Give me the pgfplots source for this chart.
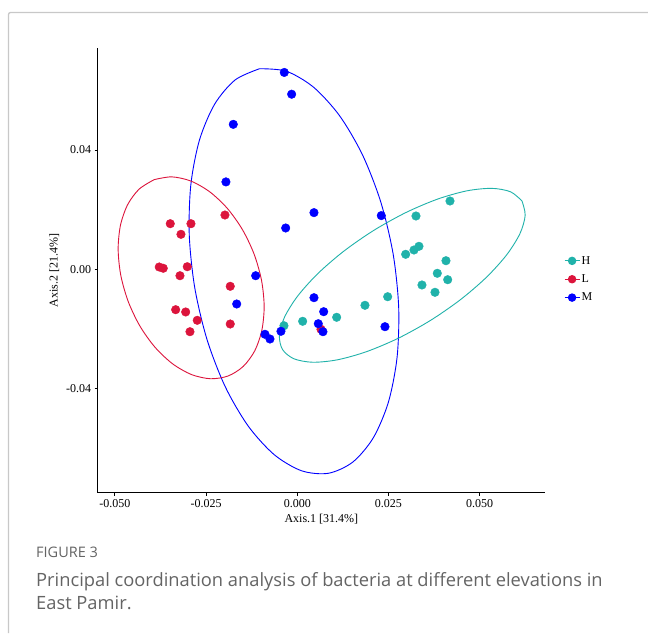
\documentclass[border=0pt]{standalone}
\usepackage{pgfplots}
\pgfplotsset{compat=1.18}
\usepackage{fontspec}
\setmainfont{Liberation Serif}
\newfontfamily\capfont{Open Sans}
\definecolor{cH}{RGB}{32,178,170}
\definecolor{cL}{RGB}{220,20,60}
\definecolor{cM}{RGB}{0,0,255}
\definecolor{capgray}{RGB}{100,100,100}
\definecolor{framegray}{RGB}{200,200,200}
\begin{document}
\begin{tikzpicture}[x=1pt,y=1pt]
\useasboundingbox (0,0) rectangle (648,633);
\fill[white] (0,0) rectangle (648,633);
\draw[framegray, line width=1.3pt, rounded corners=2pt] (8.5,0) -- (8.5,620.5) -- (648,620.5);
\begin{axis}[
  at={(97.7pt,140.3pt)}, anchor=south west,
  scale only axis, width=447.3pt, height=444.7pt,
  xmin=-0.0547, xmax=0.0679, ymin=-0.0749, ymax=0.0742,
  axis x line*=bottom, axis y line*=left,
  axis line style={black, line width=1.1pt},
  tick style={black, line width=0.8pt},
  major tick length=3pt, tick align=outside,
  scaled ticks=false,
  xtick={-0.05,-0.025,0,0.025,0.05},
  xticklabels={-0.050,-0.025,0.000,0.025,0.050},
  ytick={-0.04,0,0.04},
  yticklabels={-0.04,0.00,0.04},
  tick label style={font=\fontsize{12}{14}\selectfont},
  label style={font=\fontsize{12}{14}\selectfont},
  xlabel={Axis.1 [31.4\%]},
  ylabel={Axis.2 [21.4\%]},
  legend style={at={(1.042,0.48)}, anchor=west, draw=none, fill=none,
    font=\fontsize{12}{14}\selectfont, row sep=6pt, inner sep=0pt,
    nodes={inner sep=1.5pt}},
  legend cell align=left,
  legend image code/.code={\draw[#1, sharp plot, mark repeat=2, mark phase=2, mark size=3.6pt, line width=1.2pt] plot coordinates {(0pt,0pt) (7.5pt,0pt) (15pt,0pt)};},
  clip=false,
]
% confidence ellipses (outline points)
\addplot[cM, line width=0.9pt, smooth, forget plot] coordinates {
(-0.010327,0.06725) (-0.00297,0.066399) (0.00453,0.060987) (0.011657,0.05138)
(0.017929,0.038232) (0.022918,0.022438) (0.026283,0.005079) (0.027794,-0.012666)
(0.027351,-0.029588) (0.024982,-0.044531) (0.020848,-0.056477) (0.015232,-0.064615)
(0.008517,-0.06839) (0.00116,-0.067539) (-0.00634,-0.062127) (-0.013467,-0.05252)
(-0.019739,-0.039372) (-0.024728,-0.023578) (-0.028093,-0.006219) (-0.029604,0.011526)
(-0.029161,0.028448) (-0.026792,0.043391) (-0.022658,0.055337) (-0.017042,0.063475)
(-0.010327,0.06725)};
\addplot[cL, line width=0.9pt, smooth, forget plot] coordinates {
(-0.039228,0.030058) (-0.034418,0.030994) (-0.029244,0.029624) (-0.02406,0.026042)
(-0.019218,0.020491) (-0.015048,0.013348) (-0.011835,0.005103) (-0.009798,-0.003684)
(-0.009074,-0.012417) (-0.009715,-0.020495) (-0.011676,-0.02737) (-0.014824,-0.032576)
(-0.018942,-0.035756) (-0.023752,-0.036692) (-0.028926,-0.035322) (-0.03411,-0.03174)
(-0.038952,-0.026189) (-0.043122,-0.019046) (-0.046335,-0.010801) (-0.048372,-0.002014)
(-0.049096,0.006719) (-0.048455,0.014797) (-0.046494,0.021672) (-0.043346,0.026878)
(-0.039228,0.030058)};
\addplot[cH, line width=0.9pt, smooth, forget plot] coordinates {
(0.061596,0.0229) (0.062468,0.018129) (0.061045,0.011985) (0.057424,0.004889)
(0.051851,-0.002677) (0.044705,-0.0102) (0.036475,-0.017164) (0.027721,-0.023094)
(0.019037,-0.027589) (0.01102,-0.030341) (0.004213,-0.031161) (-0.00092,-0.029995)
(-0.00403,-0.026922) (-0.004902,-0.022151) (-0.003479,-0.016007) (0.000142,-0.008911)
(0.005715,-0.001345) (0.012861,0.006178) (0.021091,0.013142) (0.029845,0.019072)
(0.038529,0.023567) (0.046546,0.026319) (0.053353,0.027139) (0.058486,0.025973)
(0.061596,0.0229)};
% H
\addplot[only marks, mark=*, mark size=4.3pt, color=cH] coordinates {
(0.04186,0.0229) (0.03254,0.01787) (0.03336,0.00771) (0.03199,0.00647)
(0.02971,0.00503) (0.04076,0.00288) (0.03838,-0.00134) (0.04123,-0.00349)
(0.03418,-0.00526) (0.03775,-0.00771) (0.02478,-0.00919) (0.01856,-0.01207)
(0.0108,-0.01609) (0.00148,-0.01743) (-0.00365,-0.01891)};
\addlegendentry{H}
% L
\addplot[only marks, mark=*, mark size=4.3pt, color=cL] coordinates {
(-0.01982,0.0182) (-0.03481,0.01529) (-0.02914,0.01529) (-0.03188,0.01173)
(-0.03783,0.00077) (-0.03673,0.00034) (-0.03015,0.00087) (-0.03215,-0.00215)
(-0.01837,-0.0057) (-0.03333,-0.01354) (-0.03059,-0.01431) (-0.02741,-0.0171)
(-0.01837,-0.01834) (-0.02941,-0.02092) (0.0065,-0.02011)};
\addlegendentry{L}
% M
\addplot[only marks, mark=*, mark size=4.3pt, color=cM] coordinates {
(-0.00356,0.0660) (-0.00154,0.0587) (-0.01754,0.0486) (-0.01955,0.0293)
(0.00458,0.0190) (-0.00318,0.01385) (0.02303,0.0180) (-0.0114,-0.00215)
(-0.0166,-0.01163) (0.00458,-0.00952) (0.00724,-0.01421) (0.00576,-0.01824)
(0.00704,-0.02092) (-0.00447,-0.02078) (-0.00885,-0.02179) (-0.00748,-0.02337)
(0.02404,-0.01924)};
\addlegendentry{M}
\end{axis}
\node[anchor=base west, text=capgray, font=\capfont\fontsize{14.5}{17}\selectfont, inner sep=0pt] at (36,76) {FIGURE 3};
\node[anchor=base west, text=capgray, font=\capfont\fontsize{18.3}{21}\selectfont, inner sep=0pt] at (36,47) {Principal coordination analysis of bacteria at different elevations in};
\node[anchor=base west, text=capgray, font=\capfont\fontsize{18.3}{21}\selectfont, inner sep=0pt] at (36,24) {East Pamir.};
\end{tikzpicture}
\end{document}
